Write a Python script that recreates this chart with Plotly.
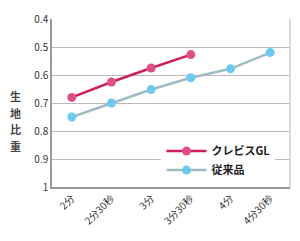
import plotly.graph_objects as go

categories = ["2分", "2分30秒", "3分", "3分30秒", "4分", "4分30秒"]
crevis_gl = [0.68, 0.625, 0.575, 0.527]
conventional = [0.75, 0.70, 0.652, 0.61, 0.578, 0.52]
y_ticks = [0.4, 0.5, 0.6, 0.7, 0.8, 0.9, 1.0]
y_tick_labels = ["0.4", "0.5", "0.6", "0.7", "0.8", "0.9", "1"]
y_title_chars = ["生", "地", "比", "重"]

fig = go.Figure()
fig.add_trace(go.Scatter(
    x=categories[:len(crevis_gl)], y=crevis_gl, name="<b>クレビスGL</b>",
    mode="lines+markers",
    line=dict(color="#cc1f60", width=2.5),
    marker=dict(color="#dd4f88", size=9),
))
fig.add_trace(go.Scatter(
    x=categories, y=conventional, name="<b>従来品</b>",
    mode="lines+markers",
    line=dict(color="#9fbcc2", width=2.5),
    marker=dict(color="#6ec9ee", size=9),
))

plot_h = 241 - 19 - 54
annotations = []
for i, ch in enumerate(y_title_chars):
    yc = 96 + i * 16.5
    annotations.append(dict(
        text="<b>" + ch + "</b>", x=-0.155, y=(187 - yc) / plot_h,
        xref="paper", yref="paper", xanchor="center", yanchor="middle",
        showarrow=False, borderpad=0,
        font=dict(size=11, color="#444", family="Noto Sans CJK JP"),
    ))

fig.update_layout(
    width=300, height=241,
    margin=dict(l=52, r=10, t=19, b=54),
    paper_bgcolor="white", plot_bgcolor="white",
    font=dict(family="Noto Sans CJK JP", color="#333"),
    showlegend=True,
    legend=dict(
        x=0.46, y=0.30, xanchor="left", yanchor="top",
        bgcolor="white", font=dict(size=11, color="#222"),
        tracegroupgap=0, itemwidth=40,
    ),
    xaxis=dict(
        type="category", categoryorder="array", categoryarray=categories,
        range=[-0.5, 5.5], tickangle=-45, tickfont=dict(size=10, color="#333"),
        showgrid=False, showline=True, linecolor="#999", linewidth=1.5,
        ticks="", mirror=False,
    ),
    yaxis=dict(
        range=[1.0, 0.4], tickvals=y_ticks, ticktext=y_tick_labels,
        tickfont=dict(size=10, color="#333"),
        showgrid=True, gridcolor="#bbb", gridwidth=1,
        showline=True, linecolor="#999", linewidth=1.5, ticks="",
        zeroline=False,
    ),
    annotations=annotations,
)
# right border
fig.add_shape(type="line", xref="paper", yref="paper", x0=1, x1=1, y0=0, y1=1,
              line=dict(color="#ccc", width=1.5))
fig.write_html("out.html")
